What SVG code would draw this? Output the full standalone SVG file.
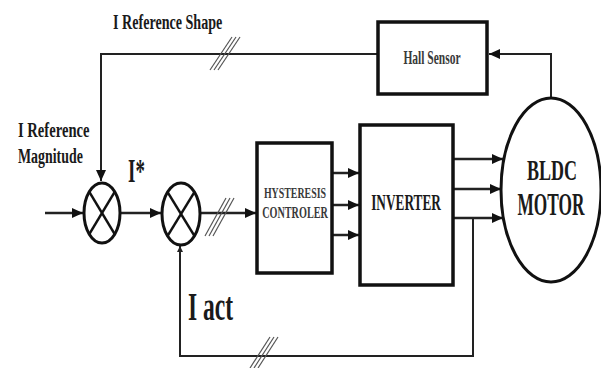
<svg xmlns="http://www.w3.org/2000/svg" width="601" height="368" viewBox="0 0 601 368">
<style>
.lbl{font-family:"Liberation Serif","Times New Roman",serif;font-weight:bold;fill:#1a1a1a}
.sm{font-family:"Liberation Serif","Times New Roman",serif;font-weight:bold;fill:#3a3a3a}
.box{fill:#fff;stroke:#111;stroke-width:3.5}
.sum{fill:#fff;stroke:#111;stroke-width:3}
.x{stroke:#111;stroke-width:2.5}
.w{fill:none;stroke:#222;stroke-width:2}
.a{fill:none;stroke:#222;stroke-width:2.5}
.sl{stroke:#555;stroke-width:1.2}
</style>
<defs>
<marker id="ah" markerUnits="userSpaceOnUse" markerWidth="12" markerHeight="10" refX="11" refY="5" orient="auto">
<path d="M0,0 L11,5 L0,10 z" fill="#111"/>
</marker>
<marker id="ahs" markerUnits="userSpaceOnUse" markerWidth="8" markerHeight="8" refX="6" refY="3" orient="auto">
<path d="M0,0 L6,3 L0,6 z" fill="#222"/>
</marker>
</defs>
<rect width="601" height="368" fill="#fff"/>

<g id="connectors">
<polyline class="w" points="551,98 551,54 489,54" marker-end="url(#ah)"/>
<polyline class="w" points="378,54 101,54 101,181" marker-end="url(#ah)"/>
<line class="a" x1="45" y1="213" x2="83" y2="213" marker-end="url(#ah)"/>
<line class="a" x1="120" y1="213" x2="161" y2="213" marker-end="url(#ah)"/>
<line class="a" x1="200" y1="213" x2="256" y2="213" marker-end="url(#ah)"/>
<line class="a" x1="333" y1="173" x2="359" y2="173" marker-end="url(#ah)"/>
<line class="a" x1="333" y1="205" x2="359" y2="205" marker-end="url(#ah)"/>
<line class="a" x1="333" y1="235" x2="359" y2="235" marker-end="url(#ah)"/>
<line class="a" x1="454" y1="159" x2="503" y2="159" marker-end="url(#ah)"/>
<line class="a" x1="454" y1="189" x2="501" y2="189" marker-end="url(#ah)"/>
<line class="a" x1="454" y1="218" x2="503" y2="218" marker-end="url(#ah)"/>
<polyline class="w" points="473,218 473,356 180,356 180,246" marker-end="url(#ahs)"/>
<g id="slashes">
<line class="sl" x1="210" y1="70" x2="232" y2="37"/>
<line class="sl" x1="214" y1="70" x2="236" y2="37"/>
<line class="sl" x1="218" y1="70" x2="240" y2="37"/>
<line class="sl" x1="205" y1="236" x2="226" y2="198"/>
<line class="sl" x1="209" y1="236" x2="230" y2="198"/>
<line class="sl" x1="213" y1="236" x2="234" y2="198"/>
<line class="sl" x1="250" y1="368" x2="270" y2="337"/>
<line class="sl" x1="254" y1="368" x2="274" y2="337"/>
<line class="sl" x1="258" y1="368" x2="278" y2="337"/>
</g>
</g>

<g id="hall-sensor">
<rect class="box" x="378" y="22" width="109" height="72"/>
<text class="sm" transform="translate(432,64) scale(1,1.6)" font-size="11.5" text-anchor="middle" fill="#555">Hall Sensor</text>
</g>

<g id="summer1">
<ellipse class="sum" cx="102" cy="213" rx="18" ry="30"/>
<line class="x" x1="89.3" y1="191.8" x2="114.7" y2="234.2"/>
<line class="x" x1="114.7" y1="191.8" x2="89.3" y2="234.2"/>
</g>

<g id="summer2">
<ellipse class="sum" cx="181" cy="214" rx="19" ry="31"/>
<line class="x" x1="167.6" y1="192.1" x2="194.4" y2="235.9"/>
<line class="x" x1="194.4" y1="192.1" x2="167.6" y2="235.9"/>
</g>

<g id="hysteresis">
<rect class="box" x="257" y="143" width="75" height="130"/>
<text class="sm" transform="translate(295,198) scale(1,1.55)" font-size="9.9" text-anchor="middle">HYSTERESIS</text>
<text class="sm" transform="translate(295,218) scale(1,1.6)" font-size="10.2" text-anchor="middle">CONTROLER</text>
</g>

<g id="inverter">
<rect class="box" x="360" y="125" width="93" height="160"/>
<text class="lbl" transform="translate(406,210) scale(1,1.7)" font-size="13.3" text-anchor="middle" fill="#2a2a2a">INVERTER</text>
</g>

<g id="motor">
<ellipse cx="551" cy="190" rx="50" ry="92" fill="#fff" stroke="#111" stroke-width="3"/>
<text class="lbl" transform="translate(552,180) scale(1,1.68)" font-size="18" text-anchor="middle">BLDC</text>
<text class="lbl" transform="translate(551,215) scale(1,1.8)" font-size="17.3" text-anchor="middle">MOTOR</text>
</g>

<g id="labels">
<text class="lbl" transform="translate(113,29) scale(1,1.5)" font-size="14.1">I Reference Shape</text>
<text class="lbl" transform="translate(18,137) scale(1,1.5)" font-size="14.6">I Reference</text>
<text class="lbl" transform="translate(18,163) scale(1,1.5)" font-size="13.9">Magnitude</text>
<text class="lbl" transform="translate(128,182) scale(1,1.75)" font-size="19">I*</text>
<text class="lbl" transform="translate(188,320) scale(1,1.74)" font-size="23.5">I act</text>
</g>
</svg>
